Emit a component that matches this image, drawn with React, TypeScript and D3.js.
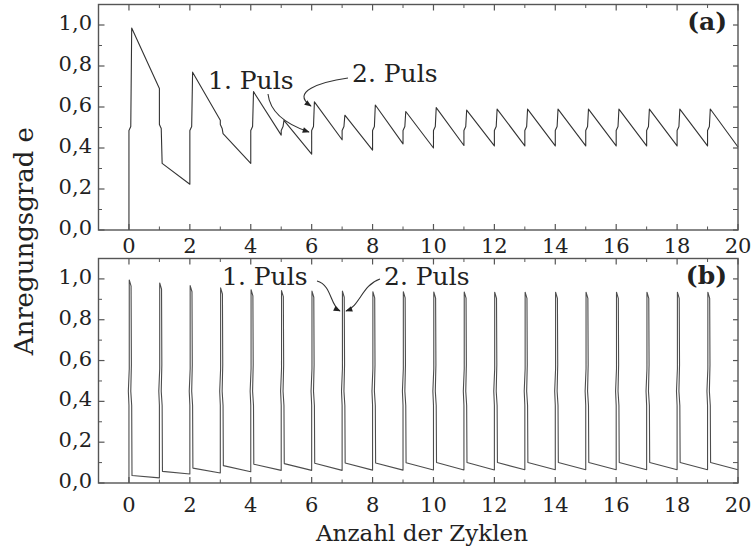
import React from "react";
import * as d3 from "d3";

// Canvas
const WIDTH = 753;
const HEIGHT = 551;
const FONT = "'DejaVu Serif', serif";

// Pulse cycles (a pulse pair is applied at the start of every cycle)
const cycles = [0, 1, 2, 3, 4, 5, 6, 7, 8, 9, 10, 11, 12, 13, 14, 15, 16, 17, 18, 19];

// Panel (a): excitation degree just before and just after each pulse pair
const aBefore = [0.0, 0.69, 0.223, 0.535, 0.325, 0.463, 0.37, 0.44, 0.39, 0.42, 0.4, 0.412, 0.41, 0.41, 0.41, 0.41, 0.41, 0.41, 0.41, 0.41];
const aAfter = [0.985, 0.325, 0.77, 0.47, 0.675, 0.535, 0.625, 0.56, 0.61, 0.578, 0.597, 0.585, 0.59, 0.59, 0.59, 0.59, 0.59, 0.59, 0.59, 0.59];
const aFinal = 0.405;

// Panel (b): level at the start of each spike, spike maximum, level after the spike
const bRise = [0.0, 0.025, 0.044, 0.049, 0.055, 0.062, 0.062, 0.062, 0.063, 0.063, 0.064, 0.064, 0.064, 0.065, 0.065, 0.065, 0.065, 0.065, 0.065, 0.065];
const bPeak = [0.995, 0.98, 0.967, 0.956, 0.947, 0.943, 0.94, 0.94, 0.937, 0.937, 0.936, 0.936, 0.935, 0.935, 0.935, 0.935, 0.935, 0.935, 0.935, 0.935];
const bFall = [0.037, 0.057, 0.073, 0.085, 0.092, 0.095, 0.097, 0.098, 0.098, 0.099, 0.1, 0.1, 0.1, 0.1, 0.1, 0.1, 0.1, 0.1, 0.1, 0.1];
const bFinal = 0.065;

// Axis ticks
const xMajor = [0, 2, 4, 6, 8, 10, 12, 14, 16, 18, 20];
const xMinor = [-1, 1, 3, 5, 7, 9, 11, 13, 15, 17, 19];
const yMajor = [0, 0.2, 0.4, 0.6, 0.8, 1.0];
const yMinor = [0.1, 0.3, 0.5, 0.7, 0.9];
const yTickText = ["0,0", "0,2", "0,4", "0,6", "0,8", "1,0"];

const xTitle = "Anzahl der Zyklen";
const yTitle = "Anregungsgrad e";

// Geometry
const X_LEFT = 98.5;
const X_RIGHT = 738;
const panels = [
  { key: "a", top: 4.5, bottom: 230, label: "(a)", tickGap: 23, stroke: "#333" },
  { key: "b", top: 258.5, bottom: 483, label: "(b)", tickGap: 29, stroke: "#4d4d4d" },
];

const x = d3.scaleLinear().domain([-1, 20]).range([X_LEFT, X_RIGHT]);

// the pulse pair passes through the half-inverted level with a small jog
const MID = 0.5;
const JOG = 0.015;

function seriesA(): [number, number][] {
  const pts: [number, number][] = [];
  cycles.forEach((n, i) => {
    const b = aBefore[i];
    const a = aAfter[i];
    const dir = a > b ? 1 : -1;
    pts.push([n, b]);
    pts.push([n, MID - dir * JOG]);
    pts.push([n + 0.06, MID + dir * JOG * 0.3]);
    pts.push([n + 0.09, a]);
  });
  pts.push([20, aFinal]);
  return pts;
}

function seriesB(): [number, number][] {
  const pts: [number, number][] = [];
  cycles.forEach((n, i) => {
    const r = bRise[i];
    const p = bPeak[i];
    const f = bFall[i];
    pts.push([n, r]);
    pts.push([n, 0.38]);
    pts.push([n - 0.02, 0.45]);
    pts.push([n + 0.01, 0.56]);
    pts.push([n + 0.01, p]);
    pts.push([n + 0.07, p - 0.03]);
    pts.push([n + 0.08, 0.58]);
    pts.push([n + 0.06, 0.45]);
    pts.push([n + 0.09, 0.38]);
    pts.push([n + 0.1, f]);
  });
  pts.push([20, bFinal]);
  return pts;
}

const FRAME = "#555";
const TEXT = "#222";

type PanelProps = { top: number; bottom: number; label: string; data: [number, number][]; tickGap: number; stroke: string };

function Panel({ top, bottom, label, data, tickGap, stroke }: PanelProps) {
  const y = d3.scaleLinear().domain([0, 1.1]).range([bottom, top]);
  const line = d3
    .line<[number, number]>()
    .x((d) => x(d[0]))
    .y((d) => y(d[1]));
  const majLen = 6;
  const minLen = 3.5;
  return (
    <g>
      <path d={line(data) || ""} fill="none" stroke={stroke} strokeWidth={1.1} strokeLinejoin="round" />
      <rect x={X_LEFT} y={top} width={X_RIGHT - X_LEFT} height={bottom - top} fill="none" stroke={FRAME} strokeWidth={1.4} />
      {xMajor.map((t) => (
        <g key={"xM" + t}>
          <line x1={x(t)} x2={x(t)} y1={bottom} y2={bottom - majLen} stroke={FRAME} strokeWidth={1.2} />
          <line x1={x(t)} x2={x(t)} y1={top} y2={top + majLen} stroke={FRAME} strokeWidth={1.2} />
          <text x={x(t)} y={bottom + tickGap} textAnchor="middle" fontFamily={FONT} fontSize={21} fill={TEXT}>
            {t}
          </text>
        </g>
      ))}
      {xMinor.map((t) => (
        <g key={"xm" + t}>
          <line x1={x(t)} x2={x(t)} y1={bottom} y2={bottom - minLen} stroke={FRAME} strokeWidth={1} />
          <line x1={x(t)} x2={x(t)} y1={top} y2={top + minLen} stroke={FRAME} strokeWidth={1} />
        </g>
      ))}
      {yMajor.map((t, i) => (
        <g key={"yM" + t}>
          <line x1={X_LEFT} x2={X_LEFT + majLen} y1={y(t)} y2={y(t)} stroke={FRAME} strokeWidth={1.2} />
          <line x1={X_RIGHT} x2={X_RIGHT - 5} y1={y(t)} y2={y(t)} stroke={FRAME} strokeWidth={1.2} />
          <text x={92} y={y(t) + 5} textAnchor="end" fontFamily={FONT} fontSize={21} fill={TEXT}>
            {yTickText[i]}
          </text>
        </g>
      ))}
      {yMinor.map((t) => (
        <g key={"ym" + t}>
          <line x1={X_LEFT} x2={X_LEFT + minLen} y1={y(t)} y2={y(t)} stroke={FRAME} strokeWidth={1} />
          <line x1={X_RIGHT} x2={X_RIGHT - 5} y1={y(t)} y2={y(t)} stroke={FRAME} strokeWidth={1} />
        </g>
      ))}
      <text x={727} y={top + 25} textAnchor="end" fontFamily={FONT} fontWeight="bold" fontSize={25} fill={TEXT}>
        {label}
      </text>
    </g>
  );
}

function Arrow({ d }: { d: string }) {
  return <path d={d} fill="none" stroke="#333" strokeWidth={1.1} markerEnd="url(#head)" />;
}

export default function App() {
  const series = [seriesA(), seriesB()];
  return (
    <svg width={WIDTH} height={HEIGHT} style={{ position: "absolute", left: 0, top: 0, background: "#fff" }}>
      <defs>
        <marker id="head" viewBox="0 0 10 10" refX="9" refY="5" markerWidth="9" markerHeight="7" orient="auto" markerUnits="userSpaceOnUse">
          <path d="M0,1 L10,5 L0,9 Z" fill="#222" />
        </marker>
      </defs>
      <rect width={WIDTH} height={HEIGHT} fill="#fff" />
      {panels.map((p, i) => (
        <Panel key={p.key} top={p.top} bottom={p.bottom} label={p.label} data={series[i]} tickGap={p.tickGap} stroke={p.stroke} />
      ))}

      {/* annotations, panel (a) */}
      <text x={208} y={89} fontFamily={FONT} fontSize={25} fill={TEXT}>1. Puls</text>
      <text x={352} y={82} fontFamily={FONT} fontSize={25} fill={TEXT}>2. Puls</text>
      <Arrow d="M268,94 C270,112 285,124 309,132" />
      <Arrow d="M348,78 C320,82 290,92 311,106" />

      {/* annotations, panel (b) */}
      <text x={222} y={285} fontFamily={FONT} fontSize={25} fill={TEXT}>1. Puls</text>
      <text x={384} y={285} fontFamily={FONT} fontSize={25} fill={TEXT}>2. Puls</text>
      <Arrow d="M317,281 C332,285 330,306 340,311" />
      <Arrow d="M380,279 C362,285 360,306 346,311" />

      {/* axis titles */}
      <text x={422} y={541} textAnchor="middle" fontFamily={FONT} fontSize={23} fill={TEXT}>
        {xTitle}
      </text>
      <text transform="translate(33,127) rotate(-90)" textAnchor="end" fontFamily={FONT} fontSize={26} fill={TEXT}>
        {yTitle}
      </text>
    </svg>
  );
}
